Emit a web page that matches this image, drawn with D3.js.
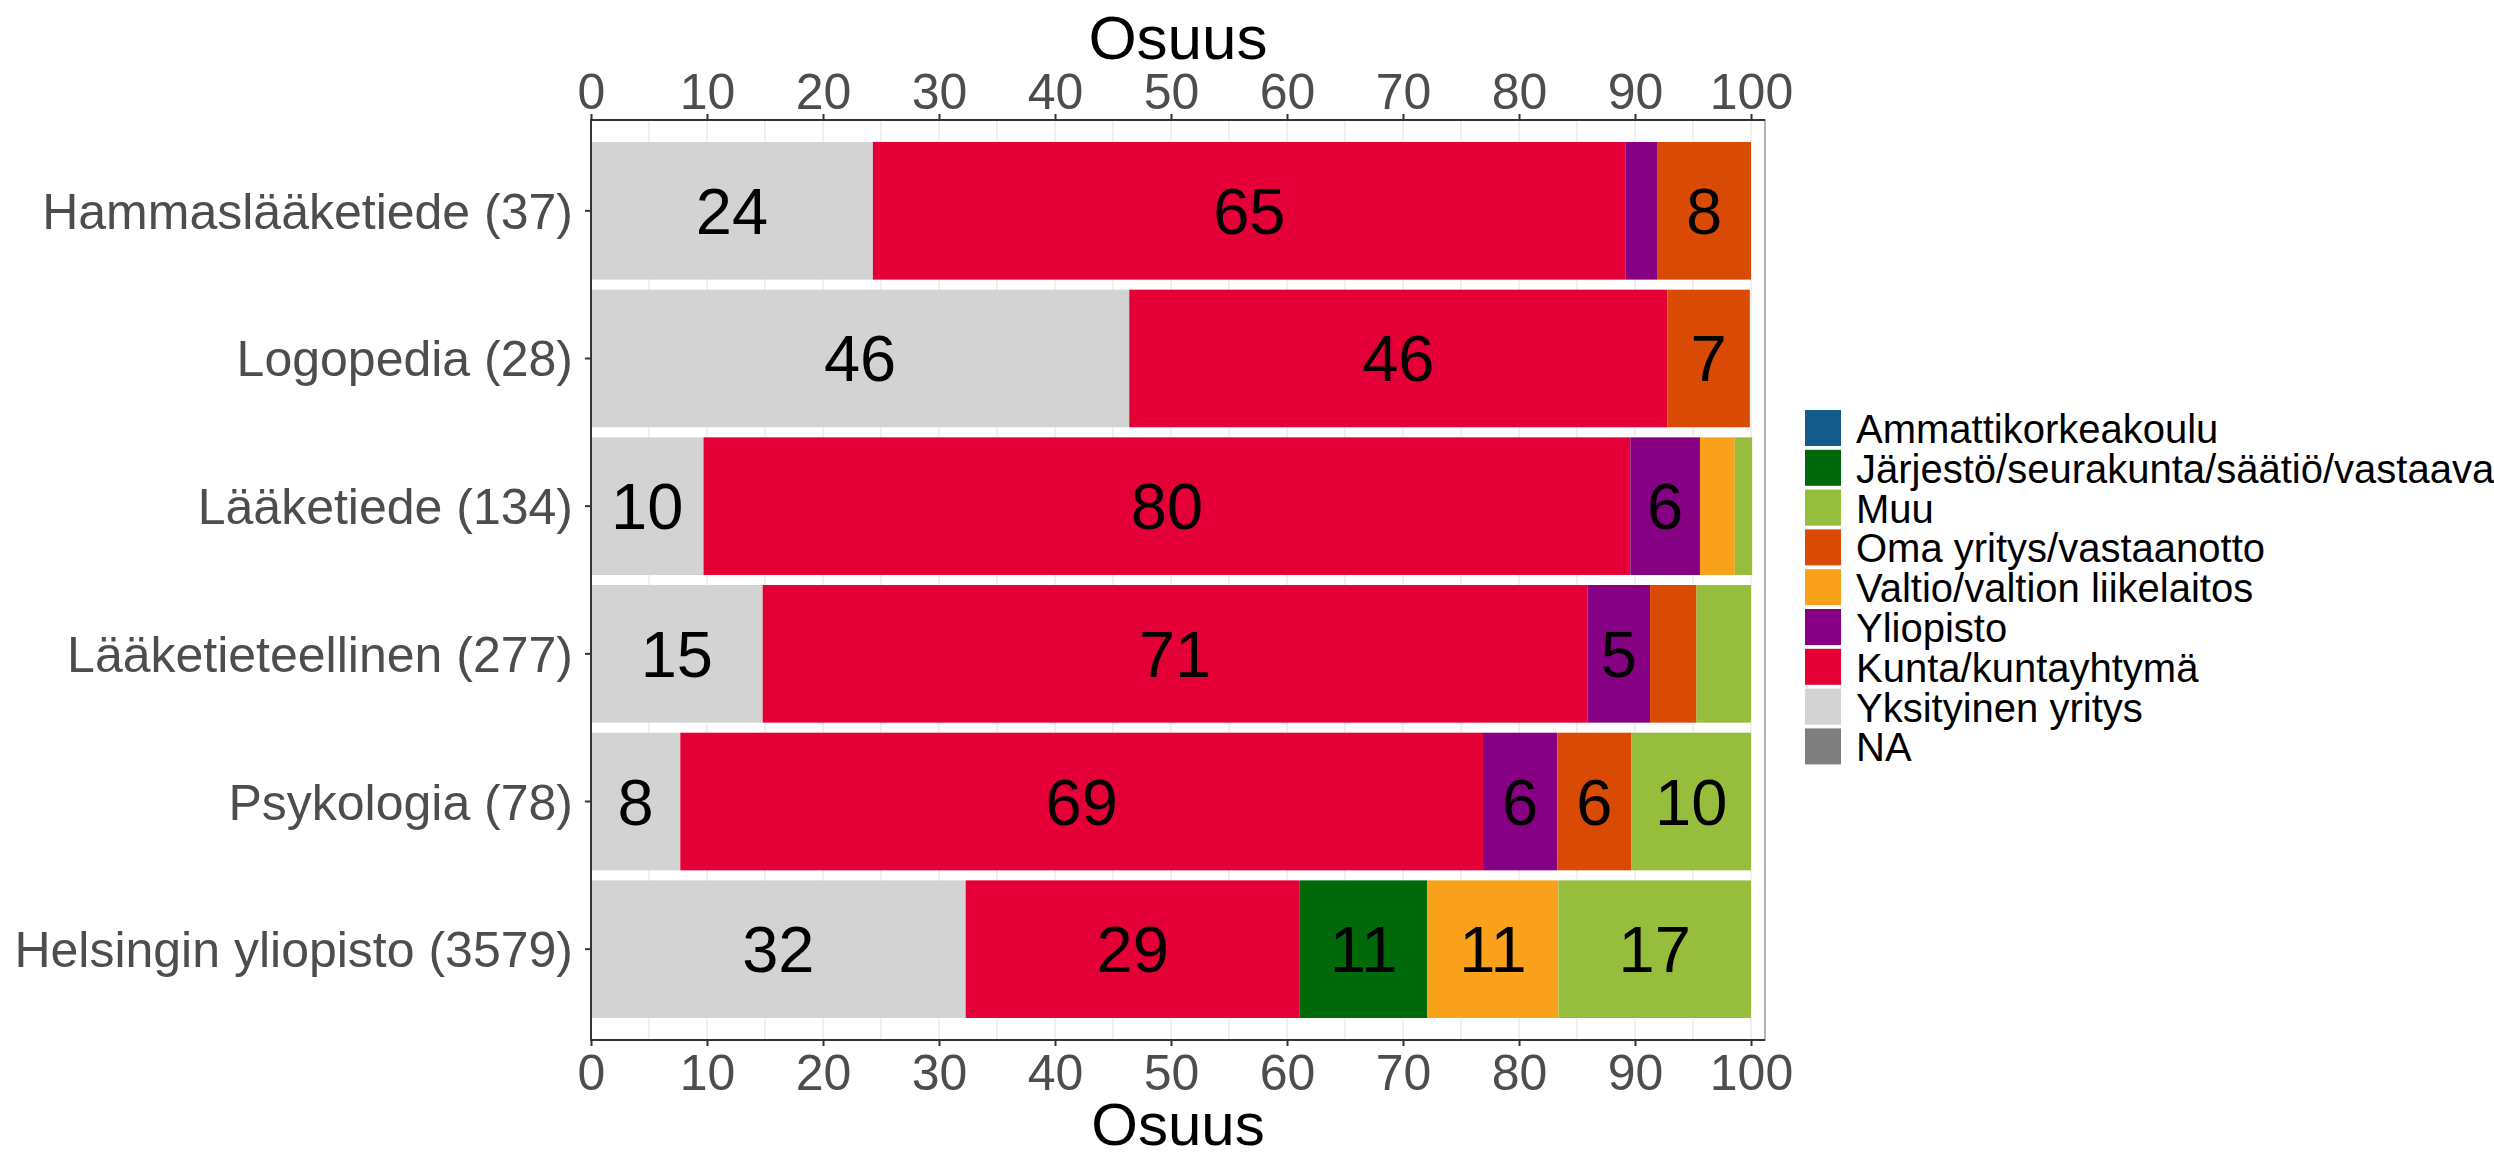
<!DOCTYPE html>
<meta charset="utf-8">
<style>
body { margin: 0; background: #fff; }
svg text { font-family: "Liberation Sans", Arial, sans-serif; }
.tick text { fill: #4d4d4d; }
.tick line { stroke: #333; stroke-width: 2px; }
.grid line { stroke: #ebebeb; stroke-width: 1.5px; }
</style>
<svg width="2494" height="1155"></svg>
<script src="https://cdn.jsdelivr.net/npm/d3@7"></script>
<script>
var width = 2494,
    height = 1155;

// rows, top to bottom
var categories = ["Hammaslääketiede (37)", "Logopedia (28)", "Lääketiede (134)",
  "Lääketieteellinen (277)", "Psykologia (78)", "Helsingin yliopisto (3579)"];

// legend order
var legendKeys = ["Ammattikorkeakoulu", "Järjestö/seurakunta/säätiö/vastaava", "Muu",
  "Oma yritys/vastaanotto", "Valtio/valtion liikelaitos", "Yliopisto",
  "Kunta/kuntayhtymä", "Yksityinen yritys", "NA"];
var legendColors = ["#135c8c", "#006a0a", "#97bd3d", "#d94a05", "#f9a11b", "#850083",
  "#e40037", "#d3d3d3", "#7f7f7f"];

// order of segments from left to right
var stackOrder = ["Yksityinen yritys", "Kunta/kuntayhtymä", "Järjestö/seurakunta/säätiö/vastaava",
  "Yliopisto", "Valtio/valtion liikelaitos", "Oma yritys/vastaanotto", "Muu",
  "Ammattikorkeakoulu", "NA"];

// shares (%) per row
var yksityinen = [24.3, 46.4, 9.7, 14.8, 7.7, 32.3];
var kunta      = [64.9, 46.4, 79.9, 71.1, 69.2, 28.8];
var jarjesto   = [0, 0, 0, 0, 0, 11.0];
var yliopisto  = [2.7, 0, 6.0, 5.4, 6.4, 0];
var valtio     = [0, 0, 3.0, 0, 0, 11.3];
var oma        = [8.1, 7.1, 0, 4.0, 6.4, 0];
var muu        = [0, 0, 1.5, 4.7, 10.3, 16.6];
var amk        = [0, 0, 0, 0, 0, 0];
var na         = [0, 0, 0, 0, 0, 0];

var xTicks = [0, 10, 20, 30, 40, 50, 60, 70, 80, 90, 100];

var valuesByKey = {
  "Yksityinen yritys": yksityinen,
  "Kunta/kuntayhtymä": kunta,
  "Järjestö/seurakunta/säätiö/vastaava": jarjesto,
  "Yliopisto": yliopisto,
  "Valtio/valtion liikelaitos": valtio,
  "Oma yritys/vastaanotto": oma,
  "Muu": muu,
  "Ammattikorkeakoulu": amk,
  "NA": na
};

var rows = categories.map(function(c, i) {
  var r = {cat: c};
  stackOrder.forEach(function(k) { r[k] = valuesByKey[k][i]; });
  return r;
});

var color = d3.scaleOrdinal().domain(legendKeys).range(legendColors);

var panel = {left: 591, right: 1765, top: 120, bottom: 1040};

var x = d3.scaleLinear().domain([0, 100]).range([591, 1751]);
var y = d3.scaleBand().domain(categories).range([142, 1018]).paddingInner(0.068).paddingOuter(0);

var svg = d3.select("svg");

// grid
var grid = svg.append("g").attr("class", "grid");
grid.selectAll("line")
  .data(d3.range(0, 101, 5))
  .enter().append("line")
    .attr("x1", function(d) { return x(d); })
    .attr("x2", function(d) { return x(d); })
    .attr("y1", panel.top)
    .attr("y2", panel.bottom);

// bars
var series = d3.stack().keys(stackOrder)(rows);

var layer = svg.append("g").selectAll("g")
  .data(series)
  .enter().append("g")
    .attr("fill", function(d) { return color(d.key); });

layer.selectAll("rect")
  .data(function(d) { return d; })
  .enter().append("rect")
    .attr("x", function(d) { return x(d[0]); })
    .attr("y", function(d) { return y(d.data.cat); })
    .attr("width", function(d) { return x(d[1]) - x(d[0]); })
    .attr("height", y.bandwidth());

layer.selectAll("text")
  .data(function(d) { return d.filter(function(e) { return e[1] - e[0] >= 5; }); })
  .enter().append("text")
    .attr("x", function(d) { return x((d[0] + d[1]) / 2); })
    .attr("y", function(d) { return y(d.data.cat) + y.bandwidth() / 2 + 23; })
    .attr("text-anchor", "middle")
    .attr("fill", "#000")
    .style("font-size", "65px")
    .text(function(d) { return Math.round(d[1] - d[0]); });

// panel border + axis lines
svg.append("rect")
  .attr("x", panel.left).attr("y", panel.top)
  .attr("width", panel.right - panel.left).attr("height", panel.bottom - panel.top)
  .attr("fill", "none").attr("stroke", "#999").attr("stroke-width", 1.5);
svg.append("path")
  .attr("d", "M" + panel.right + "," + panel.top + "H" + panel.left + "V" + panel.bottom + "H" + panel.right)
  .attr("fill", "none").attr("stroke", "#333").attr("stroke-width", 2);

// axes
var axisT = svg.append("g")
  .attr("transform", "translate(0," + panel.top + ")")
  .call(d3.axisTop(x).tickValues(xTicks).tickSize(6).tickSizeOuter(0).tickPadding(5));
var axisB = svg.append("g")
  .attr("transform", "translate(0," + panel.bottom + ")")
  .call(d3.axisBottom(x).tickValues(xTicks).tickSize(6).tickSizeOuter(0).tickPadding(2));
var axisL = svg.append("g")
  .attr("transform", "translate(" + panel.left + ",0)")
  .call(d3.axisLeft(y).tickSize(6).tickSizeOuter(0).tickPadding(12));

[axisT, axisB, axisL].forEach(function(g) {
  g.select(".domain").remove();
  g.attr("font-family", null).attr("font-size", null);
  g.selectAll("text").style("font-size", "50px");
});
axisB.selectAll("text").attr("dy", "0.84em");
axisT.selectAll("text").attr("dy", "0");
axisL.selectAll("text").attr("dy", "0.36em");

// titles
svg.append("text")
  .attr("x", (panel.left + panel.right) / 2).attr("y", 59)
  .attr("text-anchor", "middle").style("font-size", "62px").attr("fill", "#000")
  .text("Osuus");
svg.append("text")
  .attr("x", (panel.left + panel.right) / 2).attr("y", 1145)
  .attr("text-anchor", "middle").style("font-size", "60px").attr("fill", "#000")
  .text("Osuus");

// legend
var legend = svg.append("g").attr("transform", "translate(1805,410)");
var item = legend.selectAll("g")
  .data(legendKeys)
  .enter().append("g")
    .attr("transform", function(d, i) { return "translate(0," + (i * 39.8) + ")"; });
item.append("rect")
  .attr("width", 36).attr("height", 36)
  .attr("fill", function(d) { return color(d); });
item.append("text")
  .attr("x", 51).attr("y", 33)
  .style("font-size", "40px").attr("fill", "#000")
  .text(function(d) { return d; });
</script>
